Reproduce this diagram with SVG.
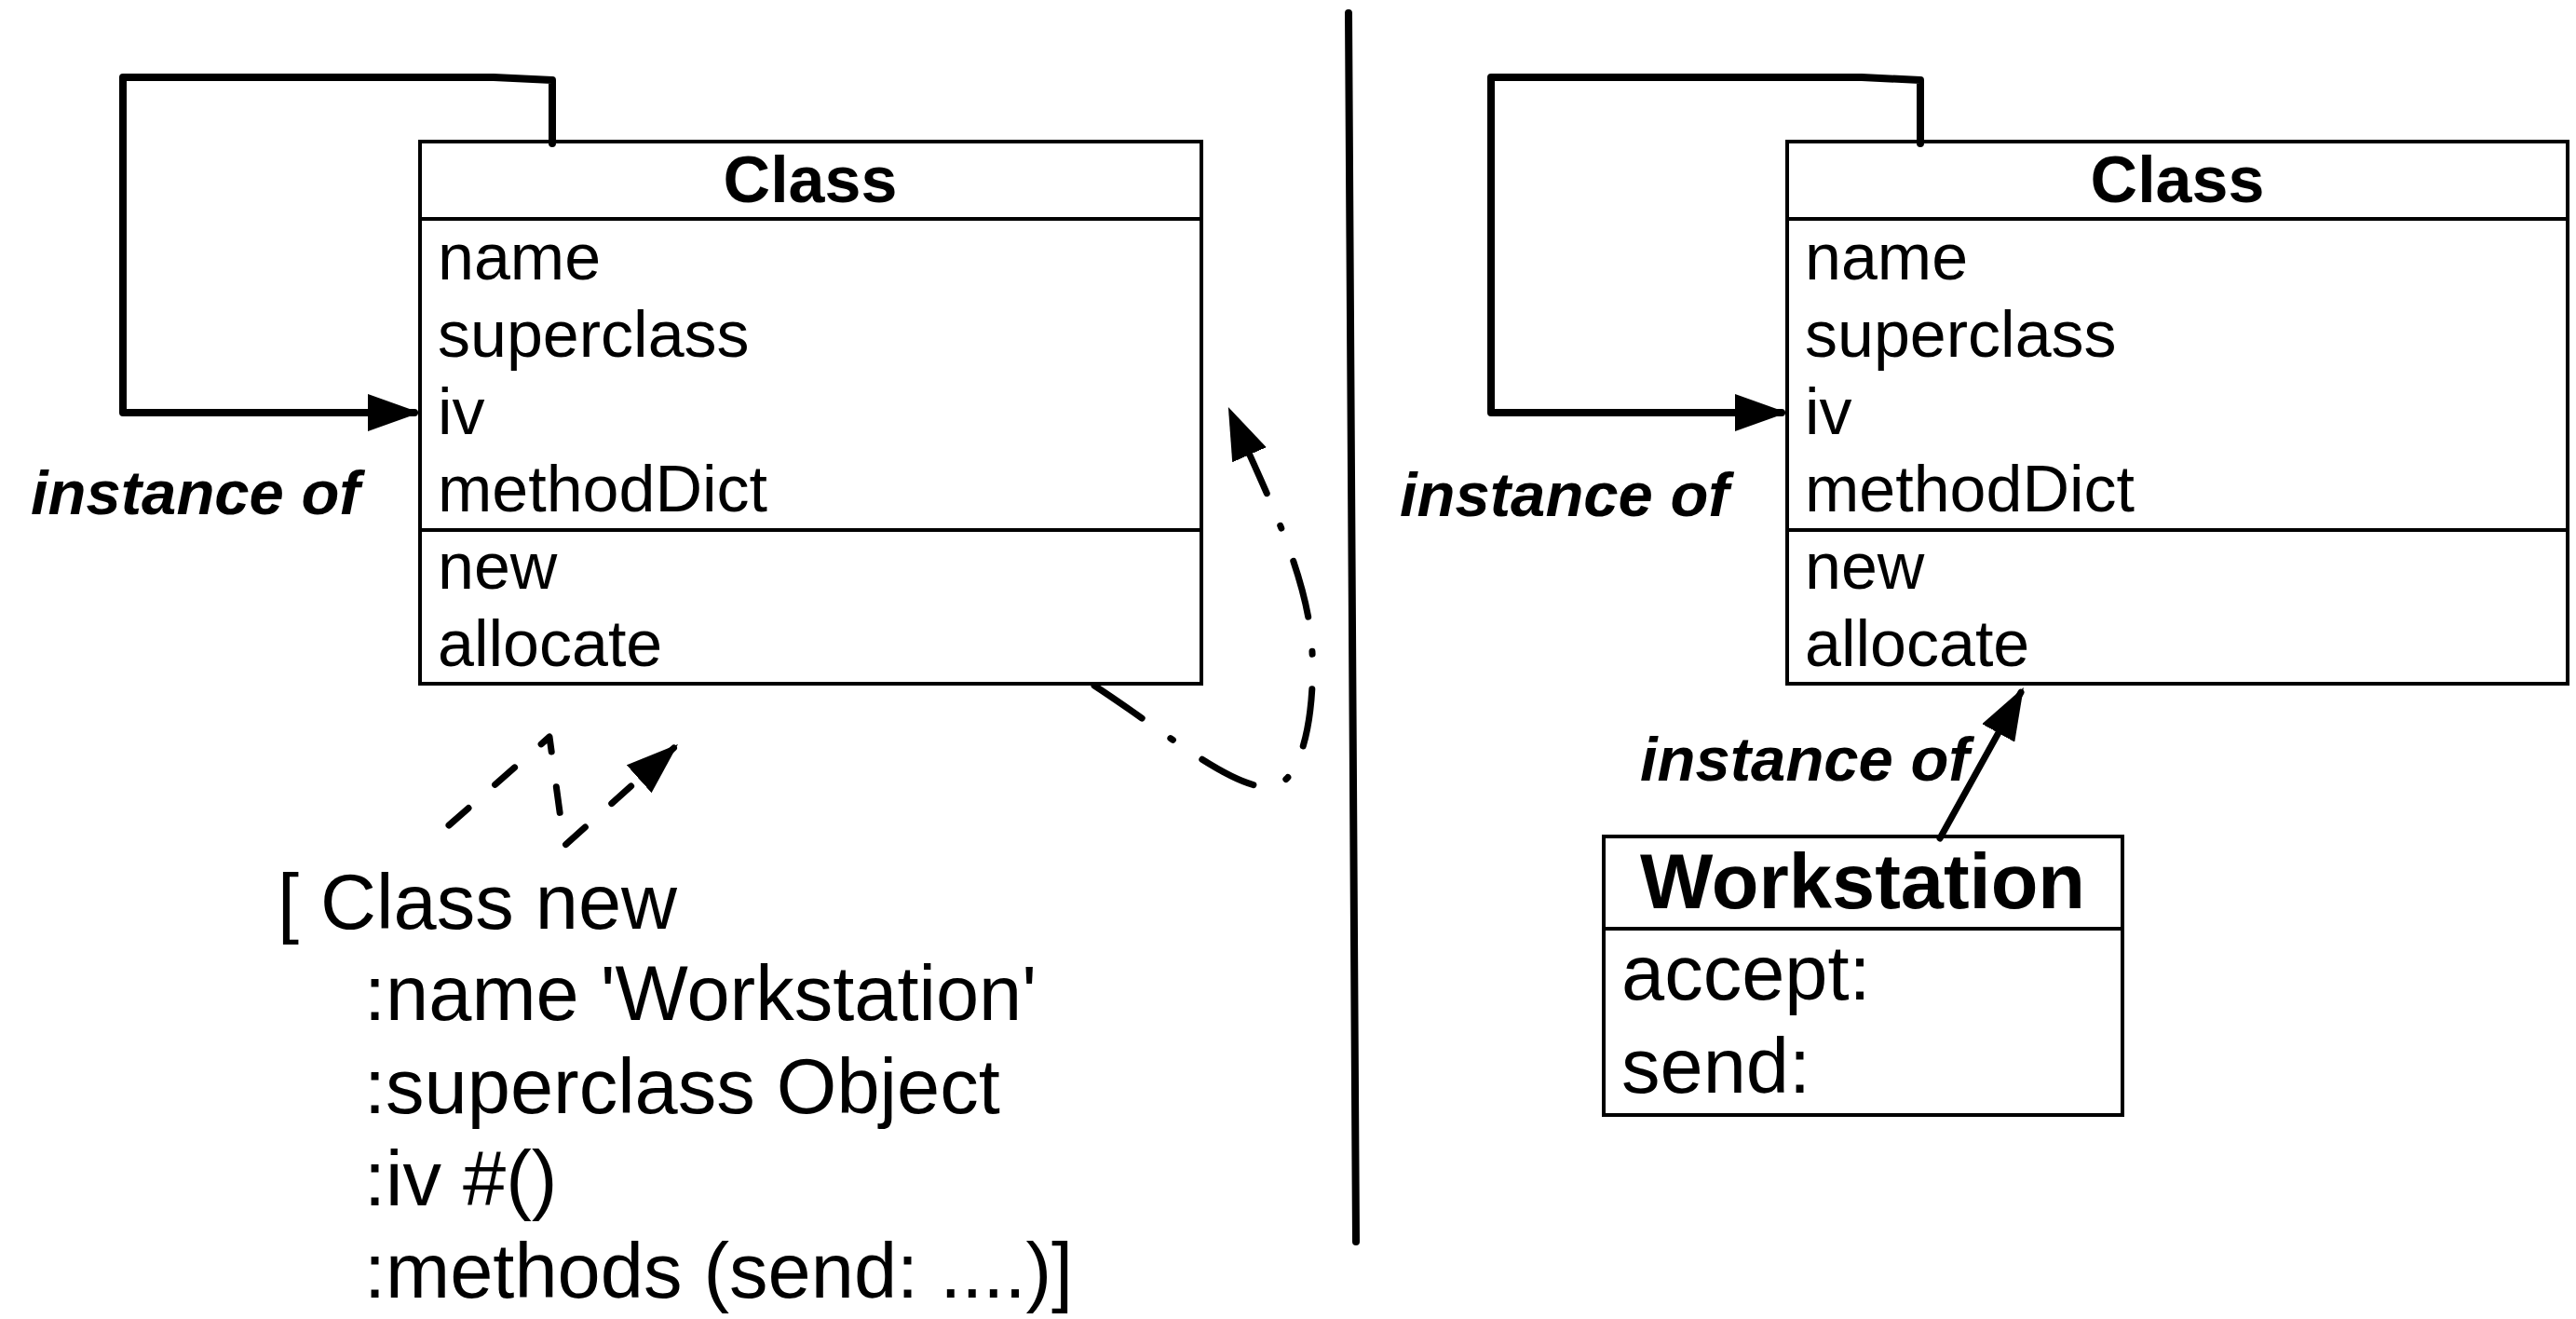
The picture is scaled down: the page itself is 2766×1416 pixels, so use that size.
<svg xmlns="http://www.w3.org/2000/svg" width="2766" height="1416" viewBox="0 0 2766 1416">
  <style>
    .box { fill: #fff; stroke: #000; stroke-width: 4; }
    .div { stroke: #000; stroke-width: 4; fill: none; }
    .t { font-family: "Liberation Sans", Arial, Helvetica, sans-serif; font-size: 70px; fill: #000; }
    .title { font-weight: bold; text-anchor: middle; }
    .lbl { font-family: "Liberation Sans", Arial, Helvetica, sans-serif; font-weight: bold; font-style: italic; font-size: 67px; fill: #000; }
    .code { font-family: "Liberation Sans", Arial, Helvetica, sans-serif; font-size: 83px; fill: #000; }
    .big { font-size: 83px; }
    .solid { fill: none; stroke: #000; stroke-width: 8; stroke-linecap: round; stroke-linejoin: round; }
    .thin { fill: none; stroke: #000; stroke-width: 7; stroke-linecap: round; stroke-linejoin: round; }
    .dashed { fill: none; stroke: #000; stroke-width: 7; stroke-linecap: round; stroke-linejoin: round; stroke-dasharray: 28 38; }
    .dashdot { fill: none; stroke: #000; stroke-width: 7; stroke-linecap: round; stroke-dasharray: 62 37.5 3 37.5; }
  </style>
  <defs>
    <marker id="ah" markerUnits="userSpaceOnUse" markerWidth="56" markerHeight="40" refX="50" refY="20" orient="auto">
      <path d="M0,0 L56,20 L0,40 z" fill="#000"/>
    </marker>
  </defs>
  <rect width="2766" height="1416" fill="#fff"/>

  <g id="left-class">
    <rect class="box" x="451" y="152" width="839" height="582"/>
    <line class="div" x1="451" y1="235" x2="1290" y2="235"/>
    <line class="div" x1="451" y1="569" x2="1290" y2="569"/>
    <text class="t title" x="870" y="217">Class</text>
    <text class="t" x="470" y="300">name</text>
    <text class="t" x="470" y="383">superclass</text>
    <text class="t" x="470" y="466">iv</text>
    <text class="t" x="470" y="549">methodDict</text>
    <text class="t" x="470" y="632">new</text>
    <text class="t" x="470" y="715">allocate</text>
  </g>

  <g id="right-class">
    <rect class="box" x="1919" y="152" width="838" height="582"/>
    <line class="div" x1="1919" y1="235" x2="2757" y2="235"/>
    <line class="div" x1="1919" y1="569" x2="2757" y2="569"/>
    <text class="t title" x="2338" y="217">Class</text>
    <text class="t" x="1938" y="300">name</text>
    <text class="t" x="1938" y="383">superclass</text>
    <text class="t" x="1938" y="466">iv</text>
    <text class="t" x="1938" y="549">methodDict</text>
    <text class="t" x="1938" y="632">new</text>
    <text class="t" x="1938" y="715">allocate</text>
  </g>

  <g id="workstation">
    <rect class="box" x="1722" y="898" width="557" height="299"/>
    <line class="div" x1="1722" y1="997" x2="2279" y2="997"/>
    <text class="t title big" x="2000" y="975">Workstation</text>
    <text class="t big" x="1741" y="1073">accept:</text>
    <text class="t big" x="1741" y="1173">send:</text>
  </g>

  <g id="code">
    <text class="code" x="298" y="997">[ Class new</text>
    <text class="code" x="391" y="1095">:name 'Workstation'</text>
    <text class="code" x="391" y="1195">:superclass Object</text>
    <text class="code" x="391" y="1294">:iv #()</text>
    <text class="code" x="391" y="1393">:methods (send: ....)]</text>
  </g>

  <g id="labels">
    <text class="lbl" x="33" y="552">instance of</text>
    <text class="lbl" x="1503" y="554">instance of</text>
    <text class="lbl" x="1761" y="838">instance of</text>
  </g>

  <g id="connectors">
    <line class="solid" x1="1448" y1="14" x2="1456" y2="1333"/>
    <path class="solid" d="M593,154 L593,86 L530,83 L132,83 L132,443 L445,443" marker-end="url(#ah)"/>
    <path class="solid" d="M2062,154 L2062,86 L1999,83 L1601,83 L1601,443 L1913,443" marker-end="url(#ah)"/>
    <path class="thin" d="M2083,900 L2170,743.2" marker-end="url(#ah)"/>
    <path class="dashed" d="M482,886 L590,791 L606,908 L723.5,803" marker-end="url(#ah)"/>
    <path class="dashdot" d="M1175,736 C1250,785 1320,845 1362,845 C1400,845 1412,760 1409,700 C1406,620 1360,530 1321.3,442.5" marker-end="url(#ah)"/>
  </g>
</svg>
